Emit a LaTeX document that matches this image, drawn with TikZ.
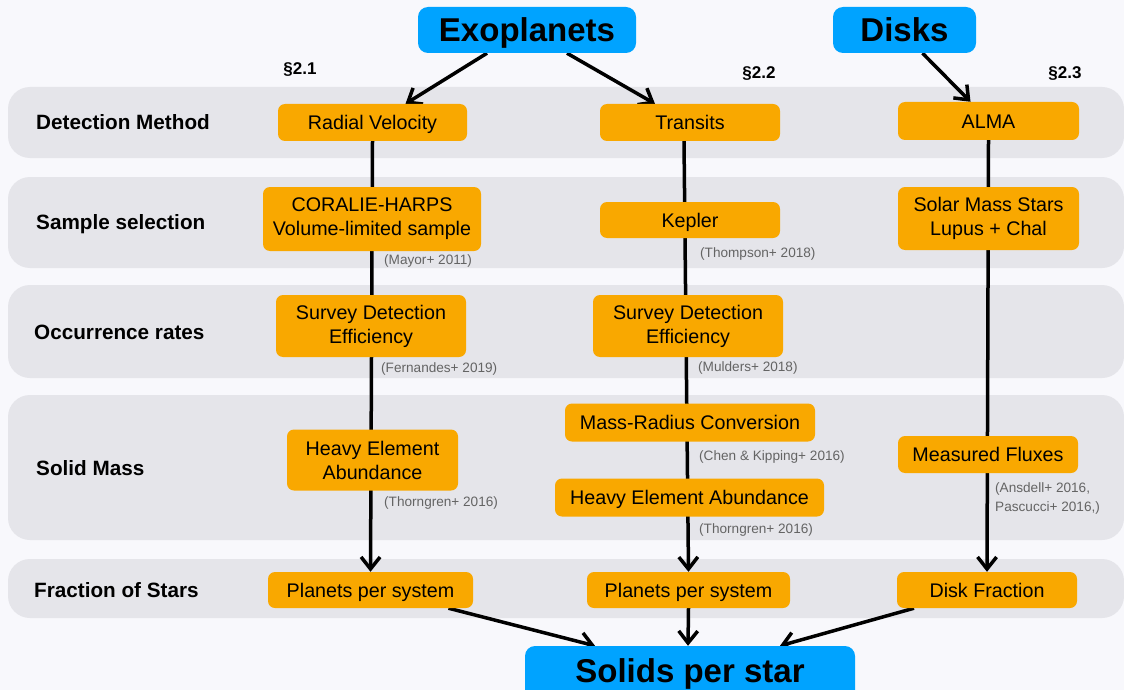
\documentclass[tikz,border=0pt]{standalone}
\usepackage{fontspec}
\setmainfont{Liberation Sans}
\usetikzlibrary{arrows.meta}
\definecolor{bgc}{RGB}{248,248,252}
\definecolor{bandc}{RGB}{229,229,234}
\definecolor{orng}{RGB}{249,168,0}
\definecolor{blu}{RGB}{0,163,255}
\definecolor{citec}{RGB}{100,100,100}
\pgfdeclarelayer{back}
\pgfdeclarelayer{lines}
\pgfsetlayers{back,lines,main}
\begin{document}
\begin{tikzpicture}[x=1pt,y=-1pt,
  obase/.style={fill=orng, rounded corners=7pt, inner sep=0pt, align=center, font=\fontsize{19.7}{24}\selectfont},
  obox/.style={obase, text height=14.1pt, text depth=0pt},
  bbox/.style={fill=blu, rounded corners=10pt, inner sep=0pt, text height=23.6pt, text depth=0pt, font=\bfseries\fontsize{33}{36}\selectfont},
  rowlab/.style={anchor=west, inner sep=0pt, text height=14.8pt, text depth=0pt, font=\bfseries\fontsize{20.7}{24}\selectfont},
  sect/.style={inner sep=0pt, text height=12.2pt, text depth=0pt, font=\bfseries\fontsize{17}{20}\selectfont},
  refbase/.style={anchor=west, inner sep=0pt, text=citec, align=left, font=\fontsize{13.6}{19}\selectfont},
  ref/.style={refbase, text height=9.7pt, text depth=0pt},
  arr/.style={line width=3.5pt, -{Straight Barb[length=12pt,width=19pt]}}
]
\clip (0,0) rectangle (1124,690);
\begin{pgfonlayer}{back}
  \fill[bgc] (0,0) rectangle (1124,690);
  \fill[bandc, rounded corners=22pt] (8,87) rectangle (1124,158);
  \fill[bandc, rounded corners=22pt] (8,177) rectangle (1124,268);
  \fill[bandc, rounded corners=22pt] (8,285) rectangle (1124,378);
  \fill[bandc, rounded corners=22pt] (8,395) rectangle (1124,540);
  \fill[bandc, rounded corners=22pt] (8,559) rectangle (1124,618);
\end{pgfonlayer}

% row labels
\node[rowlab] (l1) at (36,122) {Detection Method};
\node[rowlab] (l2) at (36,222) {Sample selection};
\node[rowlab] (l3) at (34,332) {Occurrence rates};
\node[rowlab] (l4) at (36,468) {Solid Mass};
\node[rowlab] (l5) at (34,590) {Fraction of Stars};

% section labels
\node[sect] (s1) at (300,68) {§2.1};
\node[sect] (s2) at (759,72) {§2.2};
\node[sect] (s3) at (1065,72) {§2.3};

% top / bottom boxes
\node[bbox, minimum width=218pt, minimum height=46pt] (exo) at (527,30) {Exoplanets};
\node[bbox, minimum width=143pt, minimum height=46pt] (dsk) at (904.5,30) {Disks};
\node[bbox, text depth=7pt, minimum width=330pt, minimum height=56pt] (sol) at (690,674) {Solids per star};

% left column
\node[obox, minimum width=189pt, minimum height=37pt] (rv) at (372.5,122.5) {Radial Velocity};
\node[obase, minimum width=218pt, minimum height=64pt] (cor) at (372,219) {CORALIE-HARPS\\Volume-limited sample};
\node[obase, minimum width=190pt, minimum height=62pt] (sde1) at (371,326) {Survey Detection\\Efficiency};
\node[obase, minimum width=171pt, minimum height=61pt] (hea1) at (372.5,460) {Heavy Element\\Abundance};
\node[obox, minimum width=205pt, minimum height=36pt] (pp1) at (370.5,590) {Planets per system};

% middle column
\node[obox, minimum width=180pt, minimum height=37pt] (tr) at (690,122.5) {Transits};
\node[obox, minimum width=180pt, minimum height=36pt] (kep) at (690,220) {Kepler};
\node[obase, minimum width=190pt, minimum height=62pt] (sde2) at (688,326) {Survey Detection\\Efficiency};
\node[obox, minimum width=250pt, minimum height=38pt] (mr) at (690,422.5) {Mass-Radius Conversion};
\node[obox, minimum width=269pt, minimum height=38pt] (hea2) at (689.5,497.5) {Heavy Element Abundance};
\node[obox, minimum width=203pt, minimum height=36pt] (pp2) at (688.5,590) {Planets per system};

% right column
\node[obox, minimum width=181pt, minimum height=38pt] (alma) at (988.5,121) {ALMA};
\node[obase, minimum width=181pt, minimum height=63pt] (sms) at (988.5,218.5) {Solar Mass Stars\\Lupus + Chal};
\node[obox, minimum width=180pt, minimum height=37pt] (mf) at (988,454.5) {Measured Fluxes};
\node[obox, minimum width=180pt, minimum height=36pt] (df) at (987,590) {Disk Fraction};

% citations
\node[ref] (c1) at (384,260) {(Mayor+ 2011)};
\node[ref] (c2) at (700,252.5) {(Thompson+ 2018)};
\node[ref] (c3) at (381,367.5) {(Fernandes+ 2019)};
\node[ref] (c4) at (698,367) {(Mulders+ 2018)};
\node[ref] (c5) at (384,502) {(Thorngren+ 2016)};
\node[ref] (c6) at (699,455.5) {(Chen \& Kipping+ 2016)};
\node[ref] (c7) at (699,529) {(Thorngren+ 2016)};
\node[refbase] (c8) at (995,498.5) {(Ansdell+ 2016,\\Pascucci+ 2016,)};

% connectors
\begin{pgfonlayer}{lines}
  \draw[arr] ([xshift=-40pt]exo.south) -- ([xshift=33pt]rv.north);
  \draw[arr] ([xshift=40pt]exo.south) -- ([xshift=-35pt]tr.north);
  \draw[arr] ([xshift=18pt]dsk.south) -- ([xshift=-18pt]alma.north);
  \draw[arr] (rv.south) -- (pp1.north);
  \draw[arr] ([xshift=-6pt]tr.south) -- (pp2.north);
  \draw[arr] (alma.south) -- (df.north);
  \draw[arr] ([xshift=78pt]pp1.south) -- ([xshift=-95pt]sol.north);
  \draw[arr] (pp2.south) -- ([xshift=-2pt]sol.north);
  \draw[arr] ([xshift=-73pt]df.south) -- ([xshift=90pt]sol.north);
\end{pgfonlayer}
\end{tikzpicture}
\end{document}
